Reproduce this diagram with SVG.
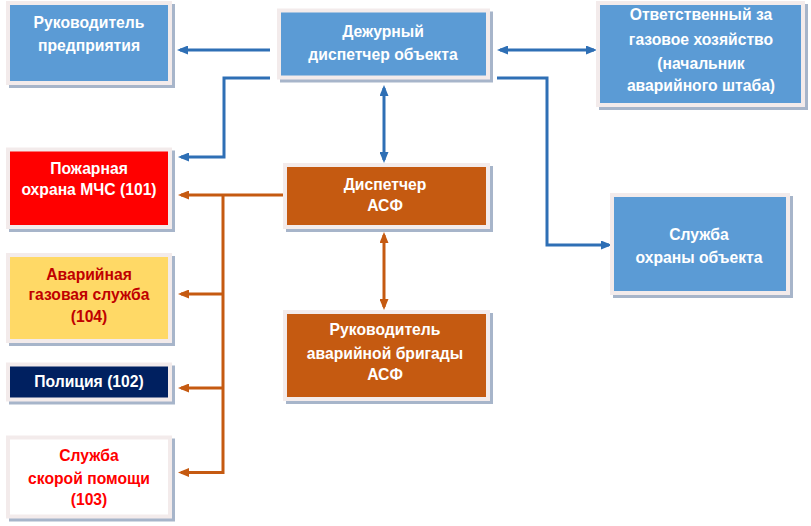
<svg xmlns="http://www.w3.org/2000/svg" width="811" height="526" viewBox="0 0 811 526">
<style>
.sh{fill:#a7b5ca}
.bd{fill:#f3ebeb}
.blue{fill:#5b9bd5}
.org{fill:#c55a11}
text{font-family:"Liberation Sans",Arial,sans-serif;font-weight:bold;font-size:15.7px;text-anchor:middle;fill:#ffffff}
.cb{fill:none;stroke:#2e6fb5;stroke-width:3}
.co{fill:none;stroke:#c55a11;stroke-width:3}
</style>
<defs>
<marker id="ab" viewBox="0 0 11 9" refX="8" refY="4.5" markerWidth="11" markerHeight="9" markerUnits="userSpaceOnUse" orient="auto-start-reverse"><path d="M0,0 L11,4.5 L0,9 z" fill="#2e6fb5"/></marker>
<marker id="ao" viewBox="0 0 11 9" refX="8" refY="4.5" markerWidth="11" markerHeight="9" markerUnits="userSpaceOnUse" orient="auto-start-reverse"><path d="M0,0 L11,4.5 L0,9 z" fill="#c55a11"/></marker>
</defs>
<g id="connectors">
<path class="cb" d="M270,50 H180" marker-end="url(#ab)"/>
<path class="cb" d="M500,50 H594" marker-start="url(#ab)" marker-end="url(#ab)"/>
<path class="cb" d="M270,78 H224 V157 H181" marker-end="url(#ab)"/>
<path class="cb" d="M497,78 H547 V245 H609" marker-end="url(#ab)"/>
<path class="cb" d="M384,88 V160" marker-start="url(#ab)" marker-end="url(#ab)"/>
<path class="co" d="M283,195 H181" marker-end="url(#ao)"/>
<path class="co" d="M223,195 V472.5 H181" marker-end="url(#ao)"/>
<path class="co" d="M223,294 H181" marker-end="url(#ao)"/>
<path class="co" d="M223,388 H181" marker-end="url(#ao)"/>
<path class="co" d="M384,235 V307" marker-start="url(#ao)" marker-end="url(#ao)"/>
</g>
<g id="n1">
<rect class="sh" x="9" y="4" width="166" height="84"/>
<rect class="bd" x="6" y="1" width="166" height="84"/>
<rect class="blue" x="10" y="5" width="158" height="76"/>
<text x="89" y="28">Руководитель</text>
<text x="89" y="51">предприятия</text>
</g>
<g id="n2">
<rect class="sh" x="280" y="11.5" width="213" height="71"/>
<rect class="bd" x="277" y="8.5" width="213" height="71"/>
<rect class="blue" x="281" y="12.5" width="205" height="63"/>
<text x="383" y="37">Дежурный</text>
<text x="383" y="59.5">диспетчер объекта</text>
</g>
<g id="n3">
<rect class="sh" x="599" y="4" width="209" height="106"/>
<rect class="bd" x="596" y="1" width="209" height="106"/>
<rect class="blue" x="600" y="5" width="201" height="98"/>
<text x="701" y="20">Ответственный за</text>
<text x="701" y="44.5">газовое хозяйство</text>
<text x="701" y="68.5">(начальник</text>
<text x="701" y="91">аварийного штаба)</text>
</g>
<g id="n4">
<rect class="sh" x="286" y="166" width="207" height="66"/>
<rect class="bd" x="283" y="163" width="207" height="66"/>
<rect class="org" x="287" y="167" width="199" height="58"/>
<text x="385" y="190">Диспетчер</text>
<text x="385" y="211">АСФ</text>
</g>
<g id="n5">
<rect class="sh" x="286" y="313" width="207" height="91"/>
<rect class="bd" x="283" y="310" width="207" height="91"/>
<rect class="org" x="287" y="314" width="199" height="83"/>
<text x="385" y="335">Руководитель</text>
<text x="385" y="358.5">аварийной бригады</text>
<text x="385" y="380">АСФ</text>
</g>
<g id="n6">
<rect class="sh" x="613" y="196" width="180" height="102"/>
<rect class="bd" x="610" y="193" width="180" height="102"/>
<rect class="blue" x="614" y="197" width="172" height="94"/>
<text x="699" y="240">Служба</text>
<text x="699" y="262.5">охраны объекта</text>
</g>
<g id="n7">
<rect class="sh" x="9" y="150.5" width="166" height="81.5"/>
<rect class="bd" x="6" y="147.5" width="166" height="81.5"/>
<rect fill="#ff0000" x="10" y="151.5" width="158" height="73.5"/>
<text x="89" y="173.5">Пожарная</text>
<text x="89" y="195">охрана МЧС (101)</text>
</g>
<g id="n8">
<rect class="sh" x="9" y="256" width="166" height="90"/>
<rect class="bd" x="6" y="253" width="166" height="90"/>
<rect fill="#ffd966" x="10" y="257" width="158" height="82"/>
<text x="89" y="280" style="fill:#c00000">Аварийная</text>
<text x="89" y="300" style="fill:#c00000">газовая служба</text>
<text x="89" y="322" style="fill:#c00000">(104)</text>
</g>
<g id="n9">
<rect class="sh" x="9" y="365.5" width="166" height="39"/>
<rect class="bd" x="6" y="362.5" width="166" height="39"/>
<rect fill="#002060" x="10" y="366.5" width="158" height="31"/>
<text x="89" y="387">Полиция (102)</text>
</g>
<g id="n10">
<rect class="sh" x="9" y="438.5" width="166" height="83"/>
<rect class="bd" x="6" y="435.5" width="166" height="83"/>
<rect fill="#ffffff" x="10" y="439.5" width="158" height="75"/>
<text x="89" y="461" style="fill:#ff0000">Служба</text>
<text x="89" y="483.5" style="fill:#ff0000">скорой помощи</text>
<text x="89" y="504.5" style="fill:#ff0000">(103)</text>
</g>
</svg>
